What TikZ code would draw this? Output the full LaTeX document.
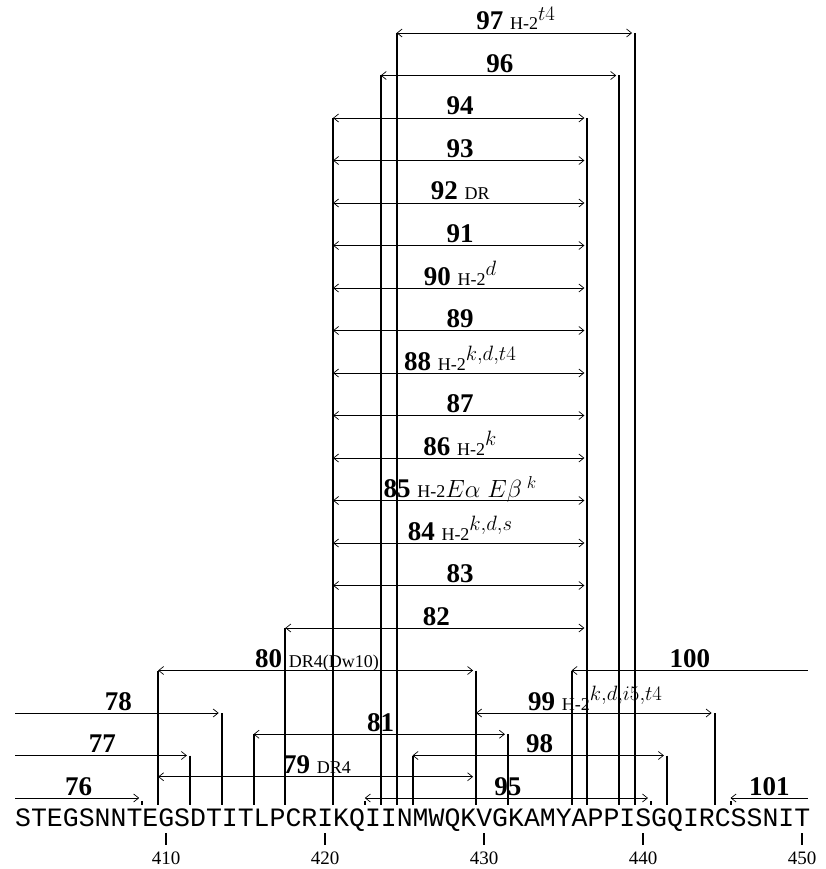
\documentclass[tikz,border=0pt]{standalone}
\usepackage{fontspec}
\setmainfont{Liberation Serif}
\newfontfamily\seqfont{Liberation Mono}
\usetikzlibrary{arrows.meta,calc}
\DeclareMathSizes{27}{27}{21}{15}
\DeclareMathSizes{25}{25}{17}{12}

% left edge of residue n (401 = first letter)
\newcommand{\resx}[1]{15+(#1-401)*15.9}
\newcommand{\hla}{{\fontsize{18}{20}\selectfont H-2}}
\newcommand{\sml}[1]{{\fontsize{18}{20}\selectfont #1}}

% #1 name, #2 first residue (0 = comes in from the left), #3 last residue
% (0 = runs out to the right), #4 row, #5 number, #6 rest of the label
\newcommand{\peptide}[6]{%
  \pgfmathsetmacro{\pepy}{798-#4*21.25}%
  \ifnum#4=0 \def\pepgap{3pt}\else\def\pepgap{0pt}\fi
  \ifnum#2=0 \coordinate (#1l) at (15,\pepy);
  \else \coordinate (#1l) at ({\resx{#2}},\pepy);
    \draw[resbar,shorten <=\pepgap] (#1l) -- (#1l |- seqtop); \fi
  \ifnum#3=0 \coordinate (#1r) at (808,\pepy);
  \else \coordinate (#1r) at ({\resx{#3+1}},\pepy);
    \draw[resbar,shorten <=\pepgap] (#1r) -- (#1r |- seqtop); \fi
  \ifnum#2=0 \draw[pepline,->,shorten >=3pt] (#1l) -- (#1r);
  \else\ifnum#3=0 \draw[pepline,<-] (#1l) -- (#1r);
  \else \draw[pepline,<->,shorten >=3pt] (#1l) -- (#1r); \fi\fi
  \node[peplabel] (#1t) at ($(#1l)!0.5!(#1r)+(0,-3)$) {\textbf{#5}#6};
}

\begin{document}
\begin{tikzpicture}[
x=1pt,y=-1pt,
>={Straight Barb[length=5pt,width=8pt]},
pepline/.style={line width=0.7pt},
resbar/.style={line width=2pt},
peplabel/.style={anchor=base,inner sep=0pt,font=\fontsize{27}{30}\selectfont},
seqtext/.style={anchor=base west,inner sep=0pt,font=\seqfont\fontsize{26.5}{30}\selectfont},
ticklabel/.style={anchor=base,inner sep=0pt,font=\fontsize{19}{22}\selectfont}
]
\useasboundingbox (0,0) rectangle (825,869);
\coordinate (seqtop) at (0,805);

\peptide{p76}{0}{408}{0}{76}{}
\peptide{p77}{0}{411}{2}{77}{}
\peptide{p78}{0}{413}{4}{78}{}
\peptide{p79}{410}{429}{1}{79}{\ \sml{DR4}}
\peptide{p80}{410}{429}{6}{80}{\ \sml{DR4(Dw10)}}
\peptide{p81}{416}{431}{3}{81}{}
\peptide{p82}{418}{436}{8}{82}{}
\peptide{p83}{421}{436}{10}{83}{}
\peptide{p84}{421}{436}{12}{84}{\ \hla$^{k,d,s}$}
\peptide{p85}{421}{436}{14}{85}{\ \hla{\fontsize{25}{28}\selectfont$E\alpha\;E\beta^{\;k}$}}
\peptide{p86}{421}{436}{16}{86}{\ \hla$^{k}$}
\peptide{p87}{421}{436}{18}{87}{}
\peptide{p88}{421}{436}{20}{88}{\ \hla$^{k,d,t4}$}
\peptide{p89}{421}{436}{22}{89}{}
\peptide{p90}{421}{436}{24}{90}{\ \hla$^{d}$}
\peptide{p91}{421}{436}{26}{91}{}
\peptide{p92}{421}{436}{28}{92}{\ \sml{DR}}
\peptide{p93}{421}{436}{30}{93}{}
\peptide{p94}{421}{436}{32}{94}{}
\peptide{p95}{423}{440}{0}{95}{}
\peptide{p96}{424}{438}{34}{96}{}
\peptide{p97}{425}{439}{36}{97}{\ \hla$^{t4}$}
\peptide{p98}{426}{441}{2}{98}{}
\peptide{p99}{430}{444}{4}{99}{\ \hla$^{k,d,i5,t4}$}
\peptide{p100}{436}{0}{6}{100}{}
\peptide{p101}{446}{0}{0}{101}{}

% sequence and residue numbers
\node[seqtext] (seq) at (15,826) {STEGSNNTEGSDTITLPCRIKQIINMWQKVGKAMYAPPISGQIRCSSNIT};
\foreach \n in {410,420,...,450} {
  \draw[resbar] ({15+(\n-400.5)*15.9},833) coordinate (tick\n) -- ++(0,12);
  \node[ticklabel] (num\n) at ($(tick\n)+(0,31)$) {\n};
}
\end{tikzpicture}
\end{document}
